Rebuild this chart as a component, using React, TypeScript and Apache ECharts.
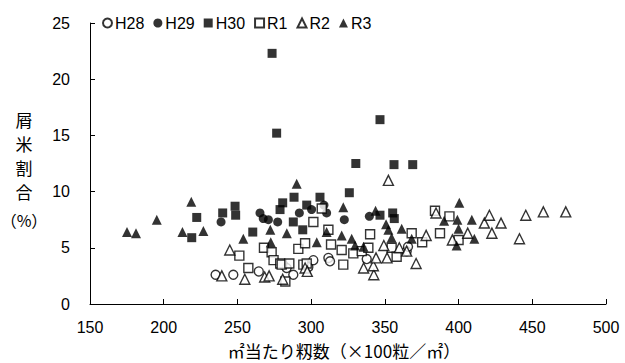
import React, { useEffect, useRef } from "react";
import * as echarts from "echarts";

const seriesNames = ["H28", "H29", "H30", "R1", "R2", "R3"];

const h28: number[][] = [
  [235.2, 2.6], [247.2, 2.6], [264.5, 2.9], [281, 3.5], [283.4, 3.2], [287.9, 2.6],
  [298.1, 3.3], [301.5, 3.9], [311.7, 4.1], [312.8, 3.8], [337.7, 4.0], [364.8, 4.7], [365.7, 5.1],
];
const h29: number[][] = [
  [238.9, 7.3], [265.3, 8.1], [267.5, 7.6], [271, 7.5], [277.3, 7.3], [292, 8.1],
  [300.3, 8.4], [308.7, 8.8], [310.5, 8.1], [322.5, 7.5], [339.5, 7.8],
];
const h30: number[][] = [
  [273.5, 22.3], [276.6, 15.2], [346.7, 16.4], [330.3, 12.5], [356.2, 12.4], [368.9, 12.4],
  [219, 5.9], [222.4, 7.7], [240, 8.1], [248.4, 8.7], [248.8, 7.9], [260.4, 6.4],
  [278.9, 8.4], [280.7, 9.0], [287.9, 7.3], [288.4, 9.5], [294.3, 6.6], [297, 8.8],
  [306, 9.5], [325.9, 9.9], [346.7, 7.9], [355.3, 8.1], [356.4, 7.6],
];
const r1: number[][] = [
  [251.3, 4.3], [257.4, 3.2], [268, 5.0], [273.2, 4.6], [274.5, 3.9], [279, 3.6],
  [280, 3.5], [282.5, 2.0], [285.2, 3.6], [291.3, 4.9], [294.7, 3.5], [295.9, 5.4],
  [297, 3.6], [301.5, 7.3], [307.2, 8.5], [311.7, 6.6], [313.5, 5.3], [320.7, 4.8],
  [321.8, 3.5], [328.6, 4.5], [334.3, 4.7], [338.8, 5.0], [340, 6.2], [354.6, 5.0],
  [358, 4.2], [368.2, 6.3], [375.3, 5.5], [384, 8.3], [387.4, 6.3], [393.8, 7.8], [400, 5.7],
];
const r2: number[][] = [
  [239.4, 2.5], [244.8, 4.8], [255, 2.2], [268.5, 2.4], [271.5, 2.5], [280.7, 2.2],
  [295.9, 3.2], [297.4, 2.9], [335.6, 3.2], [342.5, 2.6], [342.2, 3.4], [344, 4.1],
  [349.3, 5.2], [351.5, 4.1], [352.4, 11.0], [359.8, 5.0], [364.8, 4.7], [371.2, 3.6],
  [378, 6.1], [384.7, 8.1], [395.8, 5.7], [406.2, 6.3], [417.5, 7.2], [420.9, 7.9],
  [422.6, 6.3], [428.8, 7.2], [441.3, 5.8], [445.6, 7.9], [457.5, 8.2], [472.7, 8.2],
];
const r3: number[][] = [
  [175.1, 6.4], [181.2, 6.3], [195.3, 7.5], [212.7, 6.4], [218.7, 9.1], [226.9, 6.5],
  [254, 5.8], [272.3, 6.6], [272.6, 5.5], [283.5, 6.3], [290.2, 10.7], [303.8, 5.5],
  [310.5, 6.4], [321.8, 8.6], [320.7, 6.1], [327.5, 5.8], [329.8, 5.2], [335.5, 5.1],
  [343.7, 8.3], [350.8, 7.1], [352.4, 6.6], [354.6, 5.9], [361.4, 6.7], [368.2, 5.8],
  [390.2, 7.4], [399.2, 7.5], [400.5, 9.0], [400, 6.7], [398.7, 5.2], [409, 7.5], [410.7, 5.8],
];

const seriesData = [h28, h29, h30, r1, r2, r3];
const symbols = ["circle", "circle", "rect", "rect", "triangle", "triangle"];
const hollow = [true, false, false, true, true, false];
const sizes = [9, 9, 9, 9, 10, 10];

const xName = "㎡当たり籾数（×100粒／㎡）";
const yNameChars = ["屑", "米", "割", "合"];
const yUnit = "（%）";

const FONT = "'Liberation Sans', Arial, sans-serif";
const CJK = "'Noto Sans CJK JP', sans-serif";

export default function App() {
  const ref = useRef<HTMLDivElement>(null);
  useEffect(() => {
    if (!ref.current) return;
    const chart = echarts.init(ref.current, null, { renderer: "svg" });
    const series = seriesNames.map((name, i) => ({
      name,
      type: "scatter",
      data: seriesData[i],
      symbol: symbols[i],
      symbolSize: sizes[i],
      itemStyle: hollow[i]
        ? { color: "#ffffff", borderColor: "#000000", borderWidth: 1.4 }
        : { color: "#000000", borderColor: "#000000", borderWidth: 0 },
      emphasis: { disabled: true },
    }));
    const graphics: any[] = yNameChars.map((c, i) => ({
      type: "text",
      x: 24,
      y: 119 + i * 24.3,
      style: {
        text: c,
        font: `17px ${CJK}`,
        fill: "#000",
        align: "center",
        verticalAlign: "middle",
      },
    }));
    graphics.push({
      type: "text",
      x: 24,
      y: 220,
      style: { text: yUnit, font: `16px ${CJK}`, fill: "#000", align: "center", verticalAlign: "middle" },
    });
    graphics.push({
      type: "text",
      x: 344,
      y: 350,
      style: { text: xName, font: `17px ${CJK}`, fill: "#000", align: "center", verticalAlign: "middle" },
    });
    chart.setOption({
      animation: false,
      backgroundColor: "#ffffff",
      grid: { left: 90, right: 19, top: 23, bottom: 59, containLabel: false },
      legend: {
        data: seriesNames,
        top: 10,
        left: 97,
        itemWidth: 9,
        itemHeight: 9,
        itemGap: 9,
        textStyle: { fontFamily: FONT, fontSize: 16, color: "#000", padding: [0, 0, 0, -2] },
      },
      xAxis: {
        type: "value",
        min: 150,
        max: 500,
        interval: 50,
        splitLine: { show: false },
        axisLine: { show: true, onZero: false, lineStyle: { color: "#000", width: 1 } },
        axisTick: { show: true, inside: true, length: 5, lineStyle: { color: "#000" } },
        axisLabel: { fontFamily: FONT, fontSize: 16, color: "#000", margin: 15 },
      },
      yAxis: {
        type: "value",
        min: 0,
        max: 25,
        interval: 5,
        splitLine: { show: false },
        axisLine: { show: true, lineStyle: { color: "#000", width: 1 } },
        axisTick: { show: true, inside: true, length: 5, lineStyle: { color: "#000" } },
        axisLabel: { fontFamily: FONT, fontSize: 16, color: "#000", margin: 20 },
      },
      graphic: graphics,
      series,
    });
    return () => chart.dispose();
  }, []);
  return <div ref={ref} style={{ width: 625, height: 363, position: "absolute", left: 0, top: 0 }} />;
}
